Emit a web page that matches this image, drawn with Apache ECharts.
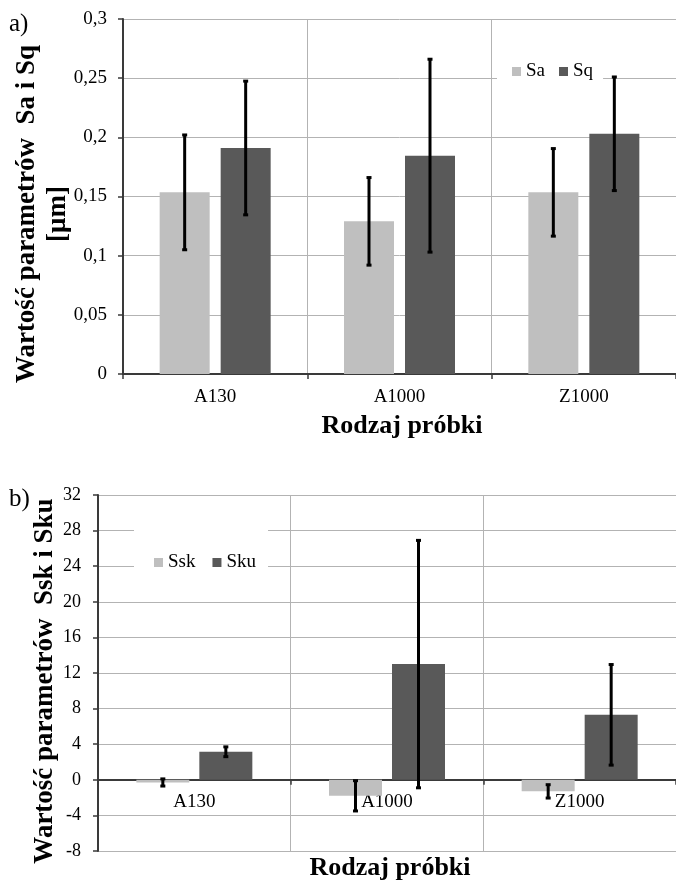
<!DOCTYPE html>
<html>
<head>
<meta charset="utf-8">
<script src="https://cdn.jsdelivr.net/npm/echarts@6/dist/echarts.min.js"></script>
<style>
html,body{margin:0;padding:0;background:#fff;}
#c{width:676px;height:882px;}
</style>
</head>
<body>
<div id="c"></div>
<script>
// ---- data ----
const categories = ['A130', 'A1000', 'Z1000'];
const saValues = [0.1535, 0.129, 0.1535];
const saErrors = [0.0485, 0.037, 0.037];
const sqValues = [0.191, 0.1845, 0.203];
const sqErrors = [0.0565, 0.0815, 0.048];
const sskValues = [-0.3, -1.8, -1.3];
const sskErrors = [0.4, 1.7, 0.75];
const skuValues = [3.15, 13.0, 7.3];
const skuErrors = [0.55, 13.9, 5.65];
const yTicksA = { min: 0, max: 0.3, interval: 0.05 };
const yTicksB = { min: -8, max: 32, interval: 4 };

// ---- styles ----
const FONT = 'Liberation Serif';
const C_LIGHT = '#bfbfbf';
const C_DARK = '#595959';
const GRID_C = '#b3b3b3';
const AXIS_C = '#3a3a3a';
const BW_A = 50, GAP_A = 11;
const BW_B = 53, GAP_B = 10;
const GRID_B_H = 356;
// place category axis of panel b on the zero line (Excel style)
const zeroOffsetB = -GRID_B_H * (0 - yTicksB.min) / (yTicksB.max - yTicksB.min);

function errSeries(vals, errs, xi, yi, offset) {
  return {
    type: 'custom',
    xAxisIndex: xi, yAxisIndex: yi, z: 10, silent: true,
    data: vals.map((v, i) => [i, v, errs[i]]),
    renderItem: function (params, api) {
      const i = api.value(0), v = api.value(1), e = api.value(2);
      const c = api.coord([i, v]);
      const x = c[0] + offset;
      const yt = api.coord([i, v + e])[1];
      const yb = api.coord([i, v - e])[1];
      const st = { stroke: '#000', lineWidth: 3 };
      return {
        type: 'group',
        children: [
          { type: 'line', shape: { x1: x, y1: yt, x2: x, y2: yb }, style: st },
          { type: 'line', shape: { x1: x - 2.5, y1: yt, x2: x + 2.5, y2: yt }, style: st },
          { type: 'line', shape: { x1: x - 2.5, y1: yb, x2: x + 2.5, y2: yb }, style: st }
        ]
      };
    }
  };
}

const chart = echarts.init(document.getElementById('c'), null, { renderer: 'canvas' });
const commonX = {
  type: 'category', data: categories,
  axisLine: { show: true, onZero: false, lineStyle: { color: AXIS_C, width: 2 } },
  axisTick: { show: true, length: 5, lineStyle: { color: AXIS_C, width: 1.5 } },
  splitLine: { show: true, lineStyle: { color: GRID_C, width: 1 } },
  axisLabel: { fontFamily: FONT, fontSize: 19, color: '#000' }
};
const commonY = {
  type: 'value',
  axisLine: { show: true, lineStyle: { color: AXIS_C, width: 2 } },
  axisTick: { show: true, length: 5, lineStyle: { color: AXIS_C, width: 1.5 } },
  splitLine: { show: true, lineStyle: { color: GRID_C, width: 1 } }
};

chart.setOption({
  animation: false,
  backgroundColor: '#fff',
  grid: [
    { left: 123, top: 19, width: 558, height: 355 },
    { left: 98, top: 495, width: 585, height: GRID_B_H }
  ],
  xAxis: [
    Object.assign({}, commonX, { gridIndex: 0, axisLabel: Object.assign({}, commonX.axisLabel, { margin: 14 }) }),
    Object.assign({}, commonX, { gridIndex: 1, offset: zeroOffsetB,
      axisLabel: Object.assign({}, commonX.axisLabel, { margin: 13 }) })
  ],
  yAxis: [
    Object.assign({}, commonY, { gridIndex: 0, min: yTicksA.min, max: yTicksA.max, interval: yTicksA.interval,
      axisLabel: { fontFamily: FONT, fontSize: 19, color: '#000', margin: 16,
        formatter: v => String(+v.toFixed(2)).replace('.', ',') } }),
    Object.assign({}, commonY, { gridIndex: 1, min: yTicksB.min, max: yTicksB.max, interval: yTicksB.interval,
      axisLabel: { fontFamily: FONT, fontSize: 18, color: '#000', margin: 17 } })
  ],
  legend: [
    { data: ['Sa', 'Sq'], left: 497, top: 58, orient: 'horizontal',
      backgroundColor: '#fff', padding: [4, 10, 4, 15], itemGap: 14,
      itemWidth: 9, itemHeight: 9, icon: 'rect',
      textStyle: { fontFamily: FONT, fontSize: 19, color: '#000' } },
    { data: ['Ssk', 'Sku'], left: 134, top: 528, orient: 'horizontal',
      backgroundColor: '#fff', padding: [25, 12, 2, 20], itemGap: 17,
      itemWidth: 9, itemHeight: 9, icon: 'rect',
      textStyle: { fontFamily: FONT, fontSize: 19, color: '#000' } }
  ],
  series: [
    { name: 'Sa', type: 'bar', xAxisIndex: 0, yAxisIndex: 0, data: saValues,
      barWidth: BW_A, barGap: (GAP_A / BW_A * 100) + '%', itemStyle: { color: C_LIGHT } },
    { name: 'Sq', type: 'bar', xAxisIndex: 0, yAxisIndex: 0, data: sqValues,
      barWidth: BW_A, barGap: (GAP_A / BW_A * 100) + '%', itemStyle: { color: C_DARK } },
    errSeries(saValues, saErrors, 0, 0, -(BW_A + GAP_A) / 2),
    errSeries(sqValues, sqErrors, 0, 0, (BW_A + GAP_A) / 2),
    { name: 'Ssk', type: 'bar', xAxisIndex: 1, yAxisIndex: 1, data: sskValues,
      barWidth: BW_B, barGap: (GAP_B / BW_B * 100) + '%', itemStyle: { color: C_LIGHT } },
    { name: 'Sku', type: 'bar', xAxisIndex: 1, yAxisIndex: 1, data: skuValues,
      barWidth: BW_B, barGap: (GAP_B / BW_B * 100) + '%', itemStyle: { color: C_DARK } },
    errSeries(sskValues, sskErrors, 1, 1, -(BW_B + GAP_B) / 2),
    errSeries(skuValues, skuErrors, 1, 1, (BW_B + GAP_B) / 2)
  ],
  graphic: [
    { type: 'text', left: 9, top: 12, style: { text: 'a)', font: '25px "Liberation Serif"', fill: '#000' } },
    { type: 'text', left: 9, top: 487, style: { text: 'b)', font: '25px "Liberation Serif"', fill: '#000' } },
    { type: 'text', x: 43, y: 214, rotation: Math.PI / 2,
      style: { text: 'Wartość parametrów  Sa i Sq\n[μm]', font: 'bold 27px "Liberation Serif"', fill: '#000',
        align: 'center', verticalAlign: 'middle', lineHeight: 31 } },
    { type: 'text', x: 45, y: 681, rotation: Math.PI / 2,
      style: { text: 'Wartość parametrów  Ssk i Sku', font: 'bold 27px "Liberation Serif"', fill: '#000',
        align: 'center', verticalAlign: 'middle' } },
    { type: 'text', x: 402, y: 426,
      style: { text: 'Rodzaj próbki', font: 'bold 26px "Liberation Serif"', fill: '#000',
        align: 'center', verticalAlign: 'middle' } },
    { type: 'text', x: 390, y: 868,
      style: { text: 'Rodzaj próbki', font: 'bold 26px "Liberation Serif"', fill: '#000',
        align: 'center', verticalAlign: 'middle' } }
  ]
});
</script>
</body>
</html>
